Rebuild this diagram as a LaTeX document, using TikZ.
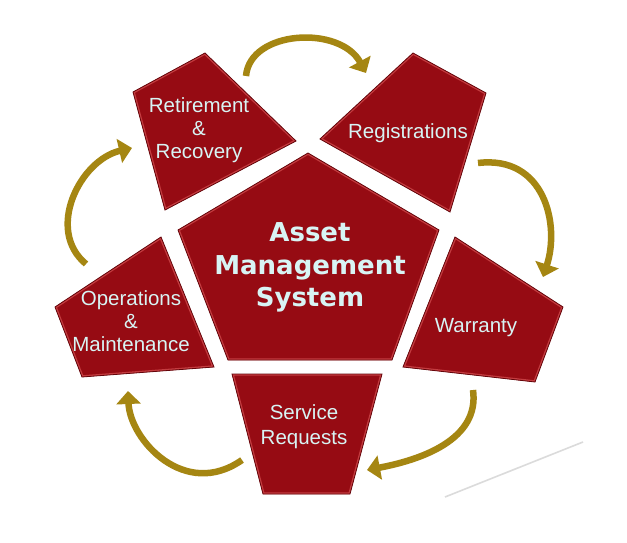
\documentclass[tikz,border=0pt]{standalone}
\usepackage{fontspec}
\setmainfont{Liberation Sans}
\newfontfamily\amsfam{DejaVu Sans}
\usetikzlibrary{arrows.meta}
\definecolor{segred}{RGB}{150,11,19}
\definecolor{segedge}{RGB}{100,5,10}
\definecolor{seghi}{RGB}{196,60,64}
\definecolor{labelc}{RGB}{216,244,244}
\definecolor{cycgold}{RGB}{165,134,18}
\newcommand\segpoly[1]{%
  \begin{scope}
    \clip #1;
    \fill[segred] #1;
    \draw[seghi,line width=3.4pt] #1;
  \end{scope}
  \draw[segedge,line width=0.8pt,line join=miter] #1;
}
\tikzset{
  lab/.style={text=labelc, font=\fontsize{20.5}{23}\selectfont, align=center, inner sep=0pt, anchor=base},
  cyc/.style={draw=cycgold, line width=6.5pt, line cap=butt, -{Triangle[width=24pt,length=13pt]}},
}
\begin{document}
\begin{tikzpicture}[x=1pt,y=-1pt]
\useasboundingbox[fill=white] (0,0) rectangle (627,543);
% faint reflection line
\draw[gray!28, line width=1.6pt] (445,497) -- (583,442);
% cycle arrows
\coordinate (a1s) at (246,76);  \coordinate (a1e) at (366,73);
\coordinate (a2s) at (478,163); \coordinate (a2e) at (543,277);
\coordinate (a3s) at (473,390); \coordinate (a3e) at (367,470);
\coordinate (a4s) at (242,460); \coordinate (a4e) at (128,391);
\coordinate (a5s) at (86,264);  \coordinate (a5e) at (132,148);
\draw[cyc] (a1s) .. controls (250,30) and (340,25) .. (a1e);
\draw[cyc] (a2s) .. controls (545,155) and (560,225) .. (a2e);
\draw[cyc] (a3s) .. controls (480,440) and (420,460) .. (a3e);
\draw[cyc] (a4s) .. controls (185,500) and (130,440) .. (a4e);
\draw[cyc] (a5s) .. controls (45,230) and (80,160) .. (a5e);
% segments
\segpoly{(205,53) -- (296,141) -- (165,210) -- (133,92) -- cycle}
\segpoly{(413,53) -- (486,93) -- (450,212) -- (320,139) -- cycle}
\segpoly{(308,153) -- (439,230) -- (392,360) -- (228,360) -- (178,230) -- cycle}
\segpoly{(161,237) -- (214,367) -- (82,377) -- (55,307) -- cycle}
\segpoly{(455,237) -- (563,307) -- (535,382) -- (403,367) -- cycle}
\segpoly{(232,374) -- (382,374) -- (350,494) -- (263,494) -- cycle}
% labels (base anchor = baseline of the last line)
\node[lab] (ret) at (199,158) {Retirement\\\&\\Recovery};
\node[lab] (reg) at (408,138) {Registrations};
\node[lab, font=\amsfam\bfseries\fontsize{26}{32.5}\selectfont] (ams) at (310,306.7) {Asset\\Management\\System};
\node[lab] (ops) at (131,351) {Operations\\\&\\Maintenance};
\node[lab] (war) at (476,332) {Warranty};
\node[lab, font=\fontsize{20.5}{25}\selectfont] (srv) at (304,444) {Service\\Requests};
\end{tikzpicture}
\end{document}
